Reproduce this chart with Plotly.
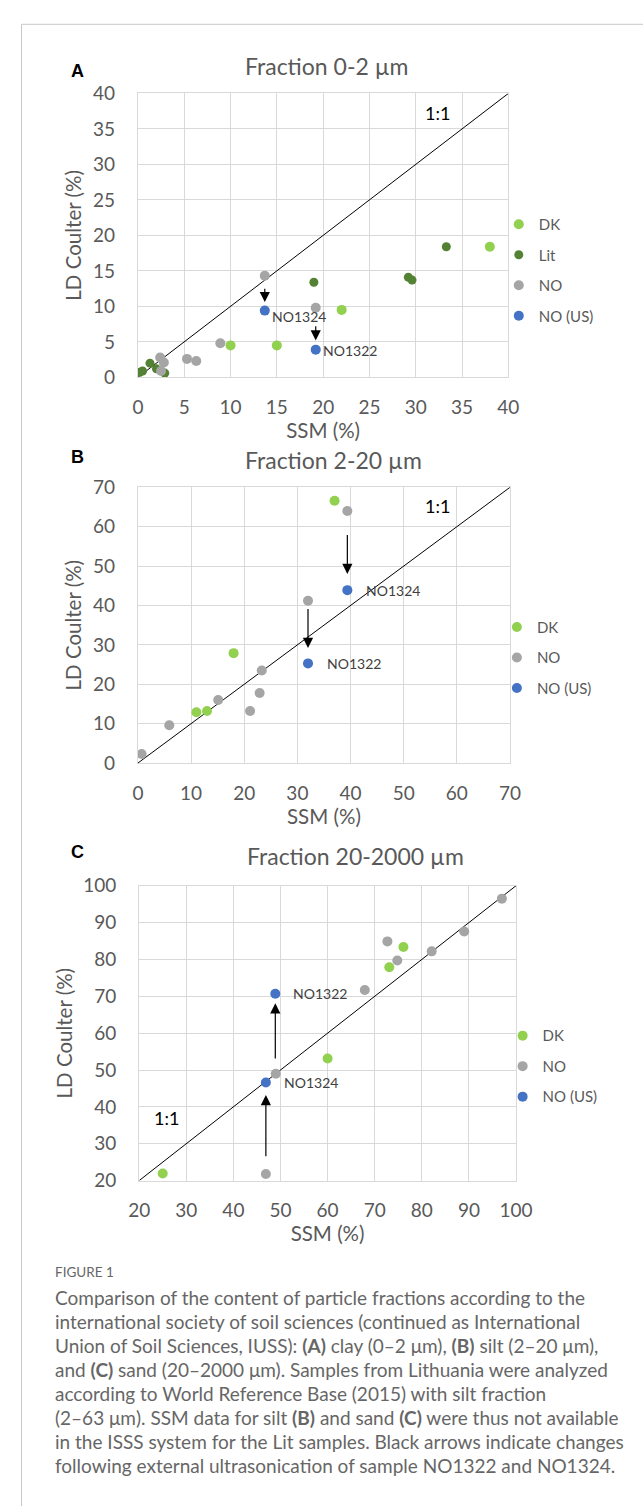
import plotly.graph_objects as go

W, H = 643, 1506

# ---------------- data ----------------
series_names = ["DK", "Lit", "NO", "NO (US)"]

# Panel A: Fraction 0-2 µm
a_dk_x = [38.0, 22.0, 10.0, 15.0]
a_dk_y = [18.4, 9.5, 4.5, 4.5]
a_lit_x = [33.3, 19.0, 29.2, 29.6, 1.3, 2.0, 0.2, 0.5, 2.9]
a_lit_y = [18.4, 13.4, 14.1, 13.7, 2.0, 1.2, 0.7, 0.9, 0.6]
a_no_x = [13.7, 19.2, 8.9, 5.3, 6.3, 2.4, 2.8, 2.5]
a_no_y = [14.3, 9.8, 4.8, 2.6, 2.3, 2.8, 2.1, 0.9]
a_us_x = [13.7, 19.2]
a_us_y = [9.4, 3.9]
a_us_labels = ["NO1324", "NO1322"]
a_arrow_x = [13.7, 19.2]
a_arrow_from = [12.7, 7.4]
a_arrow_to = [10.6, 5.2]

# Panel B: Fraction 2-20 µm
b_dk_x = [37.0, 18.0, 11.0, 13.0]
b_dk_y = [66.6, 27.9, 12.9, 13.2]
b_no_x = [39.4, 32.0, 23.3, 22.9, 21.1, 15.1, 5.9, 0.7]
b_no_y = [64.0, 41.2, 23.5, 17.8, 13.2, 16.0, 9.6, 2.3]
b_us_x = [39.4, 32.0]
b_us_y = [43.9, 25.3]
b_us_labels = ["NO1324", "NO1322"]
b_arrow_x = [39.4, 32.0]
b_arrow_from = [58.3, 39.5]
b_arrow_to = [48.0, 29.2]

# Panel C: Fraction 20-2000 µm
c_dk_x = [25.0, 60.0, 73.1, 76.1]
c_dk_y = [21.9, 53.1, 77.9, 83.4]
c_no_x = [46.9, 49.0, 67.9, 72.7, 74.8, 82.1, 89.0, 97.0]
c_no_y = [21.8, 49.0, 71.7, 84.9, 79.7, 82.2, 87.6, 96.5]
c_us_x = [48.9, 46.9]
c_us_y = [70.7, 46.6]
c_us_labels = ["NO1322", "NO1324"]
c_arrow_x = [48.9, 46.9]
c_arrow_from = [52.7, 26.2]
c_arrow_to = [68.1, 43.2]

a_range, a_dtick = [0, 40], 5
b_range, b_dtick = [0, 70], 10
c_range, c_dtick = [20, 100], 10

titles = ["Fraction 0-2 µm", "Fraction 2-20 µm", "Fraction 20-2000 µm"]
panel_letters = ["A", "B", "C"]

caption_head = "FIGURE 1"
caption_lines = [
    "Comparison of the content of particle fractions according to the",
    "international society of soil sciences (continued as International",
    "Union of Soil Sciences, IUSS): <b>(A)</b> clay (0–2 μm), <b>(B)</b> silt (2–20 μm),",
    "and <b>(C)</b> sand (20–2000 μm). Samples from Lithuania were analyzed",
    "according to World Reference Base (2015) with silt fraction",
    "(2–63 μm). SSM data for silt <b>(B)</b> and sand <b>(C)</b> were thus not available",
    "in the ISSS system for the Lit samples. Black arrows indicate changes",
    "following external ultrasonication of sample NO1322 and NO1324.",
]

# ---------------- style ----------------
FONT = "Lato"
COL = {"DK": "#92D050", "Lit": "#548235", "NO": "#A5A5A5", "NO (US)": "#4472C4"}
SIZE = {"DK": 10, "Lit": 9, "NO": 10, "NO (US)": 10}
GRID = "#D9D9D9"
TXT = "#595959"


def px_x(p):
    return p / W


def px_y(p):
    return 1 - p / H


# plot areas in pixels: (left, right, top, bottom)
areas = [
    (132.7, 520.0, 82.7, 371.0),
    (132.7, 521.7, 482.7, 762.7),
    (134.0, 528.0, 887.3, 1186.7),
]

fig = go.Figure()

panels = [
    dict(series=[("DK", a_dk_x, a_dk_y), ("Lit", a_lit_x, a_lit_y), ("NO", a_no_x, a_no_y),
                 ("NO (US)", a_us_x, a_us_y)],
         rng=a_range, dtick=a_dtick, us=(a_us_x, a_us_y, a_us_labels),
         arrows=(a_arrow_x, a_arrow_from, a_arrow_to), one=(32.3, 37.3),
         lab_shift=[(5, -6), (5, -1)], legend=dict(x=510, y=199), title_x=330, title_y=55),
    dict(series=[("DK", b_dk_x, b_dk_y), ("NO", b_no_x, b_no_y), ("NO (US)", b_us_x, b_us_y)],
         rng=b_range, dtick=b_dtick, us=(b_us_x, b_us_y, b_us_labels),
         arrows=(b_arrow_x, b_arrow_from, b_arrow_to), one=(56.3, 65.2),
         lab_shift=[(17, 0), (17, 0)], legend=dict(x=508, y=608), title_x=337, title_y=455),
    dict(series=[("DK", c_dk_x, c_dk_y), ("NO", c_no_x, c_no_y), ("NO (US)", c_us_x, c_us_y)],
         rng=c_range, dtick=c_dtick, us=(c_us_x, c_us_y, c_us_labels),
         arrows=(c_arrow_x, c_arrow_from, c_arrow_to), one=(25.8, 36.9),
         lab_shift=[(16, 0), (16, 0)], legend=dict(x=514, y=1023), title_x=360, title_y=857),
]

annotations = []
layout_axes = {}

for i, pnl in enumerate(panels):
    sfx = "" if i == 0 else str(i + 1)
    xa, ya = "x" + sfx, "y" + sfx
    leg = "legend" + sfx
    l, r, t, b = areas[i]

    # 1:1 line spanning the axis range
    fig.add_trace(go.Scatter(x=pnl["rng"], y=pnl["rng"], mode="lines",
                             line=dict(color="black", width=1), xaxis=xa, yaxis=ya,
                             showlegend=False, hoverinfo="skip"))
    for name, xs, ys in pnl["series"]:
        fig.add_trace(go.Scatter(x=xs, y=ys, mode="markers", name=name,
                                 marker=dict(color=COL[name], size=SIZE[name], line=dict(width=0)),
                                 xaxis=xa, yaxis=ya, legend=leg, legendgroup=f"{leg}-{name}"))

    ax_common = dict(range=pnl["rng"], dtick=pnl["dtick"], tick0=pnl["rng"][0],
                     showgrid=True, gridcolor=GRID, gridwidth=1,
                     showline=True, linecolor=GRID, linewidth=1, mirror=True,
                     zeroline=False, ticks="",
                     tickfont=dict(family=FONT, size=19, color=TXT),
                     title_font=dict(family=FONT, size=20.5, color=TXT))
    layout_axes["xaxis" + sfx] = dict(ax_common, domain=[px_x(l), px_x(r)], anchor=ya,
                                      ticklabelstandoff=13,
                                      title=dict(text="SSM (%)", standoff=1))
    layout_axes["yaxis" + sfx] = dict(ax_common, domain=[px_y(b), px_y(t)], anchor=xa,
                                      ticklabelstandoff=18,
                                      title=dict(text="LD Coulter (%)", standoff=5))

    layout_axes[leg] = dict(x=px_x(pnl["legend"]["x"]), y=px_y(pnl["legend"]["y"]),
                            xanchor="left", yanchor="top", bgcolor="rgba(0,0,0,0)",
                            font=dict(family=FONT, size=15, color=TXT),
                            itemsizing="trace", tracegroupgap=8, itemwidth=30)

    # sample labels next to the ultrasonicated points
    ux, uy, ulab = pnl["us"]
    for k in range(len(ux)):
        dx, dy = pnl["lab_shift"][k]
        annotations.append(dict(x=ux[k], y=uy[k], xref=xa, yref=ya, text=ulab[k],
                                showarrow=False, xanchor="left", yanchor="middle",
                                xshift=dx, yshift=dy,
                                font=dict(family=FONT, size=14, color="#404040")))
    # arrows
    axs, afrom, ato = pnl["arrows"]
    for k in range(len(axs)):
        annotations.append(dict(x=axs[k], y=ato[k], ax=axs[k], ay=afrom[k],
                                xref=xa, yref=ya, axref=xa, ayref=ya, text="",
                                showarrow=True, arrowhead=2, arrowsize=1.7,
                                arrowwidth=1.2, arrowcolor="black", standoff=0,
                                startstandoff=0))
    # 1:1 label
    annotations.append(dict(x=pnl["one"][0], y=pnl["one"][1], xref=xa, yref=ya, text="1:1",
                            showarrow=False, font=dict(family=FONT, size=18, color="black")))
    # chart title
    annotations.append(dict(x=px_x(pnl["title_x"]), y=px_y(pnl["title_y"]), xref="paper",
                            yref="paper", text=titles[i], showarrow=False,
                            xanchor="center", yanchor="middle",
                            font=dict(family=FONT, size=23, color=TXT)))

# panel letters
for letter, yy in zip(panel_letters, [60, 452, 853]):
    annotations.append(dict(x=px_x(70), y=px_y(yy), xref="paper", yref="paper",
                            text=f"<b>{letter}</b>", showarrow=False, xanchor="center",
                            yanchor="middle", font=dict(family="Liberation Sans", size=18,
                                                        color="black")))

# caption
annotations.append(dict(x=px_x(44), y=px_y(1280), xref="paper", yref="paper",
                        text=caption_head, showarrow=False, xanchor="left", yanchor="middle",
                        font=dict(family=FONT, size=13.5, color="#666666")))
for k, line in enumerate(caption_lines):
    annotations.append(dict(x=px_x(44), y=px_y(1305 + 24.5 * k), xref="paper", yref="paper",
                            text=line, showarrow=False, xanchor="left", yanchor="middle",
                            font=dict(family=FONT, size=19, color="#666666")))

shapes = [dict(type="rect", xref="paper", yref="paper", x0=px_x(11), x1=1.2,
               y0=-0.2, y1=px_y(12.5), line=dict(color="#C8C8C8", width=1),
               fillcolor="rgba(0,0,0,0)", layer="below")]

fig.update_layout(width=W, height=H, margin=dict(l=0, r=0, t=0, b=0),
                  paper_bgcolor="white", plot_bgcolor="white",
                  font=dict(family=FONT, color=TXT), showlegend=True,
                  annotations=annotations, shapes=shapes, **layout_axes)

fig.write_html("out.html", config={"displayModeBar": False},
               post_script="document.body.style.margin='0';document.body.style.overflow='hidden';")
